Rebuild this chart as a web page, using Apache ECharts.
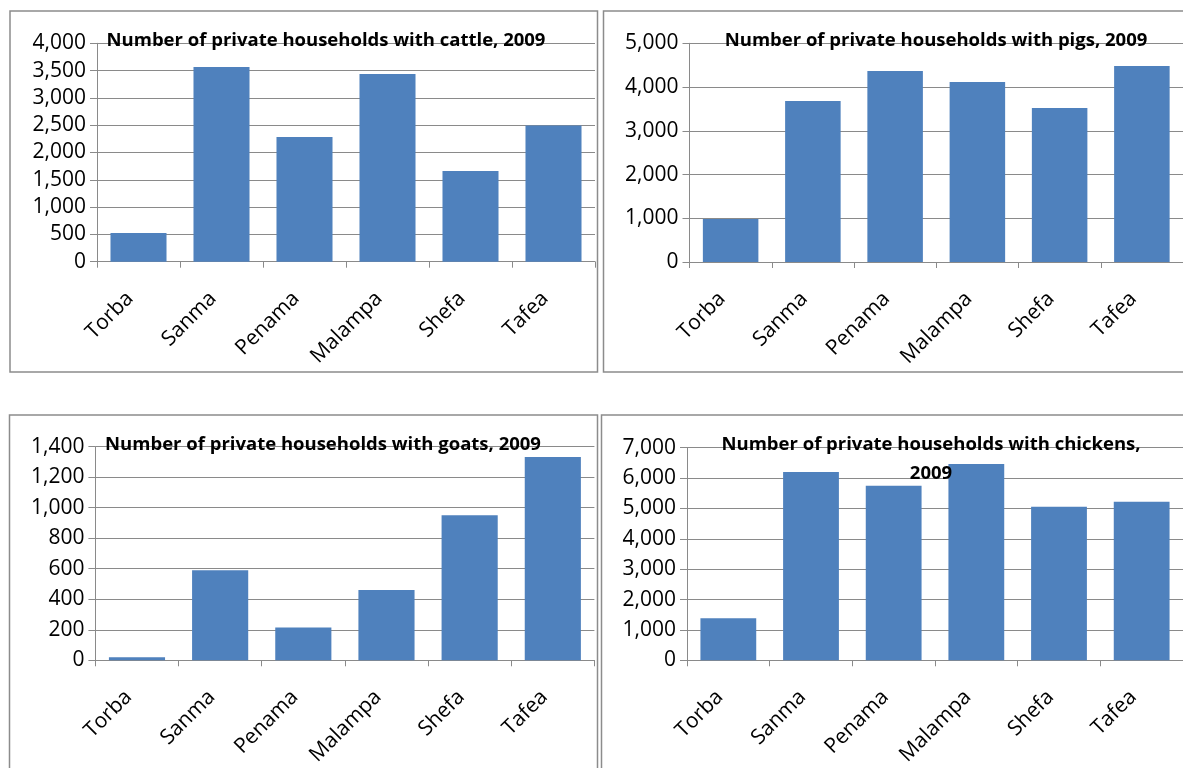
<!DOCTYPE html>
<html>
<head>
<meta charset="utf-8">
<script src="https://cdn.jsdelivr.net/npm/echarts@6/dist/echarts.min.js"></script>
<style>
html,body{margin:0;padding:0;background:#fff;}
#chart{width:1183px;height:768px;}
</style>
</head>
<body>
<div id="chart"></div>
<script>
const regions = ["Torba", "Sanma", "Penama", "Malampa", "Shefa", "Tafea"];
const cattle   = [525, 3565, 2285, 3440, 1660, 2495];
const pigs     = [985, 3680, 4365, 4115, 3520, 4480];
const goats    = [20, 590, 215, 460, 950, 1333];
const chickens = [1385, 6200, 5745, 6465, 5055, 5220];

const titles = [
  "Number of private households with cattle, 2009",
  "Number of private households with pigs, 2009",
  "Number of private households with goats, 2009",
  "Number of private households with chickens,\n2009"
];
const yMax = [4000, 5000, 1400, 7000];
const yStep = [500, 1000, 200, 1000];

const seriesData = [cattle, pigs, goats, chickens];

const grids = [
  {left: 97,   top: 43.3,  width: 498,  height: 218.4},
  {left: 689.5,top: 43.3,  width: 505,  height: 218.7},
  {left: 95.4, top: 446.7, width: 499,  height: 216.3},
  {left: 687,  top: 447.7, width: 507,  height: 213.6}
];
const titlePos = [
  {x: 326, y: 41},
  {x: 936, y: 41},
  {x: 323, y: 444.5},
  {x: 931, y: 444.5}
];

const FONT = '"Open Sans", "DejaVu Sans", sans-serif';
const gridColor = '#8a8a8a';

const chart = echarts.init(document.getElementById('chart'), null, {renderer: 'canvas'});

const option = {
  animation: false,
  backgroundColor: '#ffffff',
  grid: grids.map(g => Object.assign({containLabel: false}, g)),
  xAxis: grids.map((g, i) => ({
    type: 'category',
    gridIndex: i,
    data: regions,
    boundaryGap: true,
    axisLine: {show: true, lineStyle: {color: gridColor, width: 1}},
    axisTick: {show: true, length: 6, alignWithLabel: false, lineStyle: {color: gridColor}},
    axisLabel: {
      rotate: 45,
      interval: 0,
      margin: 25,
      padding: [0, 12, 0, 0],
      fontFamily: FONT,
      fontSize: 21,
      color: '#000'
    }
  })),
  yAxis: grids.map((g, i) => ({
    type: 'value',
    gridIndex: i,
    min: 0,
    max: yMax[i],
    interval: yStep[i],
    axisLine: {show: true, lineStyle: {color: gridColor, width: 1}},
    axisTick: {show: true, length: 7, lineStyle: {color: gridColor}},
    splitLine: {show: true, lineStyle: {color: gridColor, width: 1}},
    axisLabel: {
      margin: 11,
      fontFamily: FONT,
      fontSize: 21,
      color: '#000',
      formatter: v => v.toLocaleString('en-US')
    }
  })),
  series: seriesData.map((d, i) => ({
    type: 'bar',
    xAxisIndex: i,
    yAxisIndex: i,
    data: d,
    barCategoryGap: '32.5%',
    itemStyle: {color: '#4F81BD'},
    silent: true
  })),
  graphic: [
    {type: 'rect', shape: {x: 10, y: 11, width: 587.5, height: 361}, style: {fill: 'none', stroke: '#8c8c8c', lineWidth: 1.5}, z: -10},
    {type: 'rect', shape: {x: 603.5, y: 11, width: 700, height: 361}, style: {fill: 'none', stroke: '#8c8c8c', lineWidth: 1.5}, z: -10},
    {type: 'rect', shape: {x: 9.5, y: 415, width: 588, height: 400}, style: {fill: 'none', stroke: '#8c8c8c', lineWidth: 1.5}, z: -10},
    {type: 'rect', shape: {x: 601.5, y: 415, width: 700, height: 400}, style: {fill: 'none', stroke: '#8c8c8c', lineWidth: 1.5}, z: -10}
  ].concat(titles.map((t, i) => ({
    type: 'text',
    x: titlePos[i].x,
    y: titlePos[i].y,
    z: 100,
    style: {
      text: t,
      fill: '#000',
      font: 'bold 18.5px ' + FONT,
      align: 'center',
      verticalAlign: 'middle',
      lineHeight: 29
    }
  })))
};

// multi-line title should anchor its first line at titlePos
option.graphic[7].style.verticalAlign = 'top';
option.graphic[7].y = titlePos[3].y - 14.5;

chart.setOption(option);
</script>
</body>
</html>
